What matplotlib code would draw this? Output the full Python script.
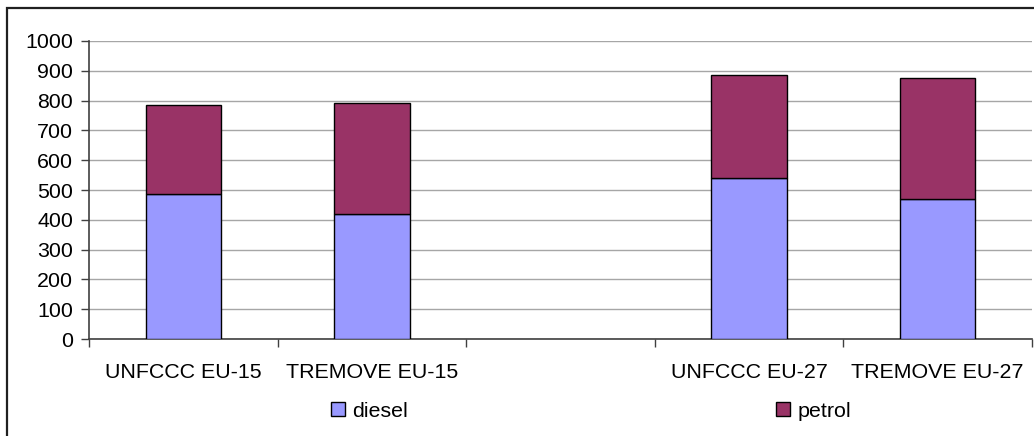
import numpy as np
import matplotlib
matplotlib.use("Agg")
import matplotlib.pyplot as plt
from matplotlib.patches import Rectangle

plt.rcParams['font.family'] = ['Liberation Sans', 'DejaVu Sans']

# data
categories = ["UNFCCC EU-15", "TREMOVE EU-15", "", "UNFCCC EU-27", "TREMOVE EU-27"]
diesel = [485, 420, np.nan, 539, 470]
petrol = [300, 371, np.nan, 346, 405]
y_ticks = list(range(0, 1001, 100))

diesel_col = '#9999FF'
petrol_col = '#993366'
fs = 15.4

fig = plt.figure(figsize=(10.34, 4.36), dpi=100)
ax = fig.add_axes([89/1034, 97/436, 943/1034, 298/436])

x = np.arange(len(categories))
ax.bar(x, diesel, width=0.4, color=diesel_col, edgecolor='black', linewidth=1, label='diesel', zorder=3)
ax.bar(x, petrol, width=0.4, bottom=diesel, color=petrol_col, edgecolor='black', linewidth=1, label='petrol', zorder=3)

ax.set_xlim(-0.5, len(categories) - 0.5)
ax.set_ylim(0, 1000)
ax.set_yticks(y_ticks)
ax.yaxis.grid(True, color='#a6a6a6', linewidth=1)
ax.set_axisbelow(True)

# category labels centred, tick marks on the boundaries
ax.set_xticks(x)
ax.set_xticklabels(categories, fontsize=fs)
ax.tick_params(axis='x', length=0, pad=17)
ax.set_xticks(np.arange(-0.5, len(categories) + 0.5, 1), minor=True)
ax.tick_params(axis='x', which='minor', length=6, width=1, color='#404040')
ax.tick_params(axis='y', labelsize=fs, length=6, width=1, color='#404040', pad=5.5)

for s in ['top', 'right']:
    ax.spines[s].set_visible(False)
for s in ['left', 'bottom']:
    ax.spines[s].set_color('#404040')
    ax.spines[s].set_linewidth(1.2)

fig.legend(loc='center', bbox_to_anchor=(591/1034, 1 - 411/436), ncol=2, frameon=False,
           fontsize=fs, handlelength=0.65, handleheight=0.65, handletextpad=0.35,
           columnspacing=17.2)

# outer chart border (clipped on right/bottom like the source)
fig.add_artist(Rectangle((6.5/1034, -0.1), 1.2, (436 - 7.5)/436 + 0.1,
                         transform=fig.transFigure, fill=False,
                         edgecolor='#202020', linewidth=1.6))

plt.savefig('out.png', dpi=100)
